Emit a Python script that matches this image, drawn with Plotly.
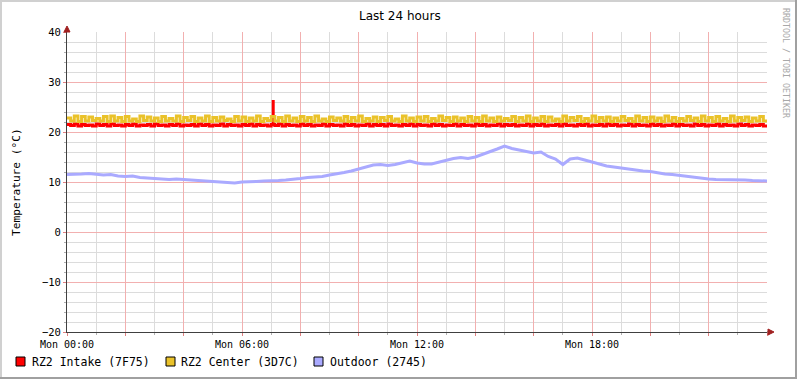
import plotly.graph_objects as go

# ---------------- data ----------------
title_text = "Last 24 hours"
y_label = "Temperature (°C)"
series_names = ["RZ2 Intake (7F75)", "RZ2 Center (3D7C)", "Outdoor (2745)"]
series_colors = ["#ff0000", "#eac22a", "#aaaaff"]

tick_hours = [0, 2, 4, 6, 8, 10, 12, 14, 16, 18, 20, 22, 24]
tick_labels = ["Mon 00:00", "", "", "Mon 06:00", "", "", "Mon 12:00", "", "", "Mon 18:00", "", "", ""]
y_ticks = [-20, -10, 0, 10, 20, 30, 40]

# 7.5-minute samples (hours 0 .. 24)
step_minutes = 7.5
center_values = [
    22.8, 22.2, 23.2, 22.1, 23.1, 22.2, 23.0, 22.3, 22.7, 22.2, 23.1, 22.1, 23.2, 22.2, 22.9, 22.1,
    23.1, 22.2, 22.6, 22.1, 23.2, 22.3, 23.0, 22.2, 22.8, 22.1, 23.1, 22.2, 22.7, 22.2, 23.2, 22.1,
    22.9, 22.3, 23.1, 22.1, 22.8, 22.2, 23.2, 22.1, 22.9, 22.2, 23.0, 22.3, 22.6, 22.1, 23.1, 22.2,
    23.0, 22.1, 22.8, 22.2, 23.2, 22.1, 22.7, 22.3, 23.1, 22.2, 22.9, 22.1, 23.2, 22.2, 22.8, 22.1,
    23.1, 22.2, 22.9, 22.1, 23.2, 22.2, 22.6, 22.1, 23.0, 22.3, 22.8, 22.2, 23.1, 22.1, 22.9, 22.2,
    23.2, 22.1, 22.7, 22.2, 23.0, 22.1, 22.9, 22.3, 23.1, 22.2, 22.6, 22.1, 23.2, 22.2, 22.8, 22.1,
    23.0, 22.2, 23.1, 22.1, 22.7, 22.2, 23.2, 22.3, 22.9, 22.1, 23.0, 22.2, 22.8, 22.1, 23.1, 22.2,
    22.9, 22.1, 23.2, 22.2, 22.8, 22.1, 23.0, 22.2, 22.7, 22.3, 23.1, 22.1, 22.9, 22.2, 23.2, 22.1,
    22.8, 22.2, 23.1, 22.1, 23.0, 22.2, 22.6, 22.1, 23.2, 22.2, 22.9, 22.3, 23.1, 22.1, 22.7, 22.2,
    23.2, 22.1, 22.9, 22.2, 23.0, 22.1, 22.8, 22.2, 23.1, 22.3, 22.7, 22.1, 23.2, 22.2, 22.9, 22.1,
    23.0, 22.2, 22.8, 22.1, 23.2, 22.2, 22.9, 22.1, 22.7, 22.2, 23.1, 22.3, 22.8, 22.1, 23.2, 22.2,
    22.9, 22.1, 23.1, 22.2, 22.7, 22.1, 23.2, 22.2, 22.9, 22.3, 23.0, 22.1, 22.8, 22.2, 23.1, 22.2,
]
intake_values = [
    21.5, 21.3, 21.6, 21.2, 21.5, 21.3, 21.4, 21.2, 21.6, 21.3, 21.5, 21.2, 21.6, 21.3, 21.4, 21.2,
    21.5, 21.3, 21.6, 21.2, 21.4, 21.3, 21.5, 21.2, 21.6, 21.3, 21.4, 21.2, 21.5, 21.3, 21.6, 21.2,
    21.4, 21.3, 21.5, 21.2, 21.6, 21.3, 21.5, 21.2, 21.4, 21.3, 21.6, 21.2, 21.5, 21.3, 21.4, 21.2,
    21.5, 21.3, 21.6, 21.2, 21.5, 21.3, 21.4, 21.2, 21.5, 21.3, 21.6, 21.2, 21.5, 21.3, 21.4, 21.2,
    21.6, 21.3, 21.5, 21.2, 21.4, 21.3, 21.6, 21.2, 21.5, 21.3, 21.4, 21.2, 21.6, 21.3, 21.5, 21.2,
    21.4, 21.3, 21.6, 21.2, 21.5, 21.3, 21.5, 21.2, 21.6, 21.3, 21.4, 21.2, 21.5, 21.3, 21.6, 21.2,
    21.5, 21.3, 21.4, 21.2, 21.6, 21.3, 21.5, 21.2, 21.4, 21.3, 21.6, 21.2, 21.5, 21.3, 21.4, 21.2,
    21.6, 21.3, 21.5, 21.2, 21.4, 21.3, 21.6, 21.2, 21.5, 21.3, 21.5, 21.2, 21.4, 21.3, 21.6, 21.2,
    21.5, 21.3, 21.6, 21.2, 21.4, 21.3, 21.5, 21.2, 21.6, 21.3, 21.4, 21.2, 21.5, 21.3, 21.6, 21.2,
    21.4, 21.3, 21.5, 21.2, 21.6, 21.3, 21.5, 21.2, 21.4, 21.3, 21.6, 21.2, 21.5, 21.3, 21.4, 21.2,
    21.6, 21.3, 21.5, 21.2, 21.4, 21.3, 21.6, 21.2, 21.5, 21.3, 21.4, 21.2, 21.6, 21.3, 21.5, 21.2,
    21.4, 21.3, 21.6, 21.2, 21.5, 21.3, 21.4, 21.2, 21.6, 21.3, 21.5, 21.2, 21.4, 21.3, 21.5, 21.2,
]
# brief intake spike
spike_hour = 7.07
spike_value = 26.4

# 15-minute samples (hours 0 .. 24)
outdoor_step_minutes = 15
outdoor_values = [
    11.5, 11.5, 11.6, 11.7, 11.5, 11.4, 11.5, 11.2, 11.1, 11.2, 10.9, 10.8,
    10.7, 10.6, 10.5, 10.6, 10.5, 10.4, 10.2, 10.1, 10.0, 9.9, 9.9, 9.8,
    10.0, 10.0, 10.1, 10.2, 10.2, 10.3, 10.4, 10.5, 10.7, 10.9, 11.0, 11.1,
    11.4, 11.6, 11.9, 12.2, 12.6, 12.9, 13.4, 13.5, 13.3, 13.5, 13.9, 14.2,
    13.8, 13.6, 13.6, 14.0, 14.4, 14.7, 14.9, 14.7, 15.0, 15.5, 16.1, 16.6,
    17.2, 16.7, 16.4, 16.1, 15.8, 16.0, 15.1, 14.6, 13.5, 14.6, 14.8, 14.4,
    14.0, 13.6, 13.2, 13.0, 12.8, 12.6, 12.3, 12.2, 12.1, 11.8, 11.6, 11.5,
    11.3, 11.2, 11.0, 10.8, 10.6, 10.5, 10.5, 10.4, 10.4, 10.4, 10.3, 10.3,
    10.2,
]

hours_fast = [i * step_minutes / 60 for i in range(len(center_values))]
hours_fast_end = hours_fast + [24.0]
hours_out = [i * outdoor_step_minutes / 60 for i in range(len(outdoor_values))]
spike_base = intake_values[int(spike_hour * 60 / step_minutes)]

MONO = "DejaVu Sans Mono"
SANS = "DejaVu Sans"

fig = go.Figure()
fig.add_trace(go.Scatter(x=hours_fast_end, y=intake_values + [intake_values[-1]], mode="lines",
                         line=dict(color=series_colors[0], width=3, shape="hv"),
                         showlegend=False, hoverinfo="skip"))
fig.add_trace(go.Scatter(x=[spike_hour, spike_hour], y=[spike_base, spike_value], mode="lines",
                         line=dict(color=series_colors[0], width=3),
                         showlegend=False, hoverinfo="skip"))
fig.add_trace(go.Scatter(x=hours_fast_end, y=center_values + [center_values[-1]], mode="lines",
                         line=dict(color=series_colors[1], width=3, shape="hv"),
                         showlegend=False, hoverinfo="skip"))
fig.add_trace(go.Scatter(x=hours_out, y=outdoor_values, mode="lines",
                         line=dict(color=series_colors[2], width=3),
                         showlegend=False, hoverinfo="skip"))

W, H = 797, 379
L, R, T, B = 67, 30, 32, 47
PW, PH = W - L - R, H - T - B


def px(xp):
    return (xp - L) / PW


def py(yp):
    return (H - B - yp) / PH


shapes = []
annotations = []

# outer border (rrdtool style shading)
shapes.append(dict(type="rect", xref="paper", yref="paper", x0=px(0), x1=px(W), y0=py(2), y1=py(0),
                   line=dict(width=0), fillcolor="#d0d0d0"))
shapes.append(dict(type="rect", xref="paper", yref="paper", x0=px(0), x1=px(2), y0=py(H), y1=py(0),
                   line=dict(width=0), fillcolor="#d0d0d0"))
shapes.append(dict(type="rect", xref="paper", yref="paper", x0=px(W - 2), x1=px(W), y0=py(H), y1=py(0),
                   line=dict(width=0), fillcolor="#a0a0a0"))
shapes.append(dict(type="rect", xref="paper", yref="paper", x0=px(0), x1=px(W), y0=py(H), y1=py(H - 2),
                   line=dict(width=0), fillcolor="#a0a0a0"))

# axis extension + arrows
shapes.append(dict(type="line", xref="paper", yref="paper", x0=1, x1=px(772), y0=0, y1=0,
                   line=dict(color="#404040", width=1)))
shapes.append(dict(type="path", xref="paper", yref="paper",
                   path=f"M {px(768)} {py(329)} L {px(774)} {py(332)} L {px(768)} {py(335)} Z",
                   fillcolor="#a02020", line=dict(color="#a02020", width=1)))
shapes.append(dict(type="line", xref="paper", yref="paper", x0=0, x1=0, y0=1, y1=py(28),
                   line=dict(color="#404040", width=1)))
shapes.append(dict(type="path", xref="paper", yref="paper",
                   path=f"M {px(64)} {py(32)} L {px(67)} {py(26)} L {px(70)} {py(32)} Z",
                   fillcolor="#a02020", line=dict(color="#a02020", width=1)))

# legend
legend_sq_x = [16, 166, 314]
legend_tx_x = [30, 179, 328]
for name, col, sx, tx in zip(series_names, series_colors, legend_sq_x, legend_tx_x):
    shapes.append(dict(type="rect", xref="paper", yref="paper", x0=px(sx), x1=px(sx + 9),
                       y0=py(366), y1=py(357), fillcolor=col, line=dict(color="black", width=1)))
    annotations.append(dict(text=name, xref="paper", yref="paper", x=px(tx), y=py(361.5),
                            xanchor="left", yanchor="middle", showarrow=False,
                            font=dict(family=MONO, size=11.5, color="black")))

# title
annotations.append(dict(text=title_text, xref="paper", yref="paper", x=px(400), y=py(16),
                        xanchor="center", yanchor="middle", showarrow=False,
                        font=dict(family=SANS, size=12, color="black")))
# y label
annotations.append(dict(text=y_label, xref="paper", yref="paper", x=px(16), y=py(182),
                        xanchor="center", yanchor="middle", showarrow=False, textangle=-90,
                        font=dict(family=MONO, size=11.2, color="black")))
# watermark
annotations.append(dict(text="RRDTOOL / TOBI OETIKER", xref="paper", yref="paper", x=px(786), y=py(63),
                        xanchor="center", yanchor="middle", showarrow=False, textangle=90,
                        font=dict(family=MONO, size=8.3, color="#a8a8a8")))

fig.update_layout(
    width=W, height=H,
    margin=dict(l=L, r=R, t=T, b=B, pad=0),
    paper_bgcolor="white", plot_bgcolor="white",
    shapes=shapes, annotations=annotations,
    showlegend=False,
    xaxis=dict(range=[0, 24], tickmode="array", tickvals=tick_hours, ticktext=tick_labels,
               showgrid=True, gridcolor="#f2b0b0", gridwidth=1,
               minor=dict(dtick=1, tick0=0, showgrid=True, gridcolor="#dcdcdc", ticks="outside",
                          ticklen=2, tickcolor="#b0b0b0"),
               ticks="outside", ticklen=3, tickcolor="#e08080",
               showline=True, linecolor="#404040", linewidth=1, zeroline=False,
               tickfont=dict(family=MONO, size=10, color="black"), fixedrange=True),
    yaxis=dict(range=[-20, 40], tickmode="array", tickvals=y_ticks,
               showgrid=True, gridcolor="#f2b0b0", gridwidth=1,
               minor=dict(dtick=2, tick0=0, showgrid=True, gridcolor="#dcdcdc", ticks="outside",
                          ticklen=2, tickcolor="#b0b0b0"),
               ticks="outside", ticklen=3, tickcolor="#e08080",
               showline=True, linecolor="#404040", linewidth=1, zeroline=False,
               tickfont=dict(family=MONO, size=10.5, color="black"), fixedrange=True),
)

fig.write_html("out.html", config={"displayModeBar": False},
               post_script="document.body.style.margin='0';document.body.style.overflow='hidden';")
